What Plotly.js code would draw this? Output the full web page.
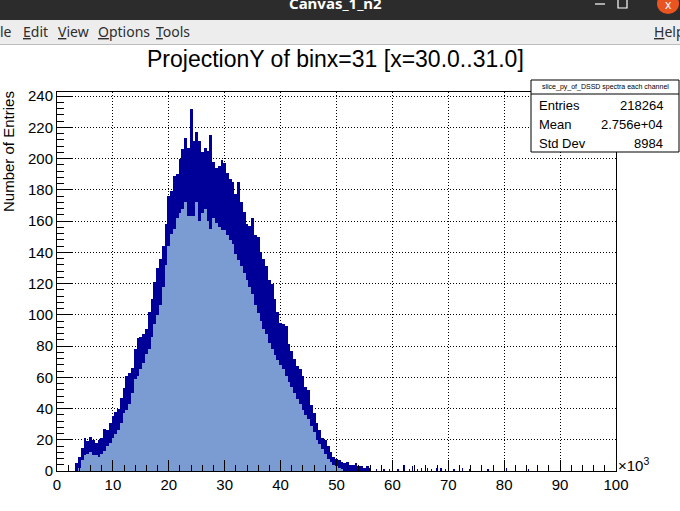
<!DOCTYPE html>
<html>
<head>
<meta charset="utf-8">
<script src="https://cdn.plot.ly/plotly-3.0.1.min.js"></script>
<style>
html,body{margin:0;padding:0;background:#fff;}
#chart{width:680px;height:511px;}
</style>
</head>
<body>
<div id="chart"></div>
<script>
// bin centres in units of 10^3 (0.5e3 steps), band envelopes
var binCenters = [3.5,4,4.5,5,5.5,6,6.5,7,7.5,8,8.5,9,9.5,10,10.5,11,11.5,12,12.5,13,13.5,14,14.5,15,15.5,16,16.5,17,17.5,18,18.5,19,19.5,20,20.5,21,21.5,22,22.5,23,23.5,24,24.5,25,25.5,26,26.5,27,27.5,28,28.5,29,29.5,30,30.5,31,31.5,32,32.5,33,33.5,34,34.5,35,35.5,36,36.5,37,37.5,38,38.5,39,39.5,40,40.5,41,41.5,42,42.5,43,43.5,44,44.5,45,45.5,46,46.5,47,47.5,48,48.5,49,49.5,50,50.5,51,51.5,52,52.5,53,53.5,54,54.5,55,55.5,56];
var upperCounts = [5,9,15,21,19,22,20,18,20,21,27,26,31,35,38,40,47,53,61,63,66,78,85,86,88,91,102,110,121,130,136,144,158,176,179,189,190,200,206,213,207,232,211,217,211,204,207,205,215,198,194,195,199,197,191,187,185,177,185,172,166,158,157,162,151,150,140,136,131,122,120,110,102,95,94,93,81,77,72,67,65,61,54,52,42,37,31,26,21,20,16,12,9,8,7,6,5,6,4,4,5,3,3,2,3,2];
var lowerCounts = [0,2,7,10,11,12,10,10,9,11,13,16,18,21,24,26,31,37,39,43,50,59,61,65,69,75,78,86,94,100,106,118,132,144,152,155,162,165,168,172,163,163,163,172,160,165,168,160,155,162,159,156,154,154,151,148,145,139,135,131,127,122,118,113,106,101,96,91,88,82,78,74,71,68,65,61,57,54,50,46,43,39,36,33,29,25,20,17,14,11,8,6,4,3,2,1,0,0,0,0,0,0,0,0,0,0];
// sparse tail bins (10^3 units) and their counts
var tailCenters = [57.2,58.5,59.5,61.0,62.1,63.0,63.6,64.5,65.2,66.3,67.0,67.9,68.7,69.5,71.0,72.5,73.8,75.9,77.1,80.4,82.0,84.3];
var tailCounts  = [1,1,1,1,4,1,3,1,2,2,1,2,2,1,1,2,1,2,1,2,1,1];

var xTicks = [0,10,20,30,40,50,60,70,80,90,100];
var yTicks = [0,20,40,60,80,100,120,140,160,180,200,220,240];

var statLabels = ["Entries","Mean","Std Dev"];
var statValues = ["218264","2.756e+04","8984"];
var histName = "slice_py_of_DSSD spectra each channel";
var plotTitle = "ProjectionY of binx=31 [x=30.0..31.0]";

var bandHeights = upperCounts.map(function(u,i){return u - lowerCounts[i];});

var FILL = "#7b9bd3", LINE = "#000099";

var traces = [
  {type:"bar", x:binCenters, y:lowerCounts, width:0.5, marker:{color:FILL, line:{width:0}}, hoverinfo:"skip"},
  {type:"bar", x:binCenters, y:bandHeights, base:lowerCounts, width:0.5, marker:{color:LINE, line:{width:0}}, hoverinfo:"skip"},
  {type:"bar", x:tailCenters, y:tailCounts, width:0.22, marker:{color:LINE, line:{width:0}}, hoverinfo:"skip"}
];

// pixel -> paper helpers (plot area: x 57..616, y 92..471)
var L=57, R=616, T=92, B=471;
function px(x){return (x-L)/(R-L);}
function py(y){return (B-y)/(B-T);}

var font = "Liberation Sans, Arial, sans-serif";
var uiFont = "Noto Sans, DejaVu Sans, sans-serif";

var shapes = [
  // window title bar
  {type:"rect", xref:"paper", yref:"paper", x0:px(0), x1:px(680), y0:py(0), y1:py(20), fillcolor:"#2c2c2c", line:{width:0}, layer:"above"},
  // menu bar
  {type:"rect", xref:"paper", yref:"paper", x0:px(0), x1:px(680), y0:py(20), y1:py(44), fillcolor:"#ededed", line:{width:0}, layer:"above"},
  {type:"line", xref:"paper", yref:"paper", x0:px(0), x1:px(680), y0:py(44.5), y1:py(44.5), line:{color:"#bdbdbd", width:1}, layer:"above"},
  // close button
  {type:"circle", xref:"paper", yref:"paper", x0:px(657), x1:px(679), y0:py(-7), y1:py(14), fillcolor:"#e95420", line:{width:0}, layer:"above"},
  // minimise / maximise glyphs
  {type:"line", xref:"paper", yref:"paper", x0:px(595), x1:px(605), y0:py(4), y1:py(4), line:{color:"#ffffff", width:1.2}, layer:"above"},
  {type:"rect", xref:"paper", yref:"paper", x0:px(618), x1:px(627), y0:py(-1), y1:py(8), line:{color:"#ffffff", width:1.2}, layer:"above"},
  // stats box
  {type:"rect", xref:"paper", yref:"paper", x0:px(531), x1:px(679), y0:py(80), y1:py(152), fillcolor:"#ffffff", line:{color:"#000", width:1}, layer:"above"},
  {type:"line", xref:"paper", yref:"paper", x0:px(531), x1:px(679), y0:py(94), y1:py(94), line:{color:"#000", width:1}, layer:"above"}
];

var annotations = [
  {xref:"paper", yref:"paper", x:px(335), y:py(3), text:"<b>Canvas_1_n2</b>", showarrow:false, xanchor:"center", yanchor:"middle", font:{family:uiFont, size:15, color:"#ffffff"}},
  {xref:"paper", yref:"paper", x:px(668), y:py(4), text:"x", showarrow:false, xanchor:"center", yanchor:"middle", font:{family:uiFont, size:12, color:"#ffffff"}},
  {xref:"paper", yref:"paper", x:px(-2), y:py(32), text:"le", showarrow:false, xanchor:"left", yanchor:"middle", font:{family:uiFont, size:14, color:"#2e2e2e"}},
  {xref:"paper", yref:"paper", x:px(21), y:py(32), text:"<u>E</u>dit", showarrow:false, xanchor:"left", yanchor:"middle", font:{family:uiFont, size:14, color:"#2e2e2e"}},
  {xref:"paper", yref:"paper", x:px(56), y:py(32), text:"<u>V</u>iew", showarrow:false, xanchor:"left", yanchor:"middle", font:{family:uiFont, size:14, color:"#2e2e2e"}},
  {xref:"paper", yref:"paper", x:px(96), y:py(32), text:"<u>O</u>ptions", showarrow:false, xanchor:"left", yanchor:"middle", font:{family:uiFont, size:14, color:"#2e2e2e"}},
  {xref:"paper", yref:"paper", x:px(154), y:py(32), text:"<u>T</u>ools", showarrow:false, xanchor:"left", yanchor:"middle", font:{family:uiFont, size:14, color:"#2e2e2e"}},
  {xref:"paper", yref:"paper", x:px(652), y:py(32), text:"<u>H</u>elp", showarrow:false, xanchor:"left", yanchor:"middle", font:{family:uiFont, size:14, color:"#2e2e2e"}},
  // plot title
  {xref:"paper", yref:"paper", x:px(335), y:py(59), text:plotTitle, showarrow:false, xanchor:"center", yanchor:"middle", font:{family:font, size:23, color:"#000"}},
  // y-axis title
  {xref:"paper", yref:"paper", x:px(8), y:py(152), text:"Number of Entries", textangle:-90, showarrow:false, xanchor:"center", yanchor:"middle", font:{family:font, size:15, color:"#000"}},
  // x10^3
  {xref:"paper", yref:"paper", x:px(616), y:py(464), text:"×10<sup>3</sup>", showarrow:false, xanchor:"left", yanchor:"middle", font:{family:font, size:15, color:"#000"}},
  // stats box texts
  {xref:"paper", yref:"paper", x:px(605), y:py(87), text:histName, showarrow:false, xanchor:"center", yanchor:"middle", font:{family:font, size:7, color:"#000"}}
];
statLabels.forEach(function(lbl,i){
  var yy = [105.5,124.5,143.5][i];
  annotations.push({xref:"paper", yref:"paper", x:px(537), y:py(yy), text:lbl, showarrow:false, xanchor:"left", yanchor:"middle", font:{family:font, size:13, color:"#000"}});
  annotations.push({xref:"paper", yref:"paper", x:px(665), y:py(yy), text:statValues[i], showarrow:false, xanchor:"right", yanchor:"middle", font:{family:font, size:13, color:"#000"}});
});

var layout = {
  width:680, height:511, autosize:false,
  margin:{l:57, r:64, t:92, b:40, pad:0},
  paper_bgcolor:"#ffffff", plot_bgcolor:"#ffffff",
  showlegend:false, barmode:"overlay", bargap:0,
  font:{family:font, size:14, color:"#000"},
  xaxis:{
    range:[0,100], tickmode:"array", tickvals:xTicks, ticktext:xTicks.map(String),
    ticks:"inside", ticklen:11, tickwidth:1, tickcolor:"#000",
    minor:{dtick:2, tick0:0, ticks:"inside", ticklen:6, tickwidth:1, tickcolor:"#000", showgrid:false},
    showline:true, linecolor:"#000", linewidth:1, mirror:true,
    showgrid:true, gridcolor:"#000", gridwidth:1, griddash:"1px,2px",
    zeroline:false, tickfont:{family:font, size:15, color:"#000"}
  },
  yaxis:{
    range:[0,242.6], tickmode:"array", tickvals:yTicks, ticktext:yTicks.map(String),
    ticks:"inside", ticklen:15, tickwidth:1, tickcolor:"#000",
    minor:{dtick:4, tick0:0, ticks:"inside", ticklen:7, tickwidth:1, tickcolor:"#000", showgrid:false},
    showline:true, linecolor:"#000", linewidth:1, mirror:true,
    showgrid:true, gridcolor:"#000", gridwidth:1, griddash:"1px,2px",
    zeroline:false, tickfont:{family:font, size:15, color:"#000"}
  },
  shapes:shapes, annotations:annotations
};

Plotly.newPlot("chart", traces, layout, {staticPlot:true, displayModeBar:false});
</script>
</body>
</html>
